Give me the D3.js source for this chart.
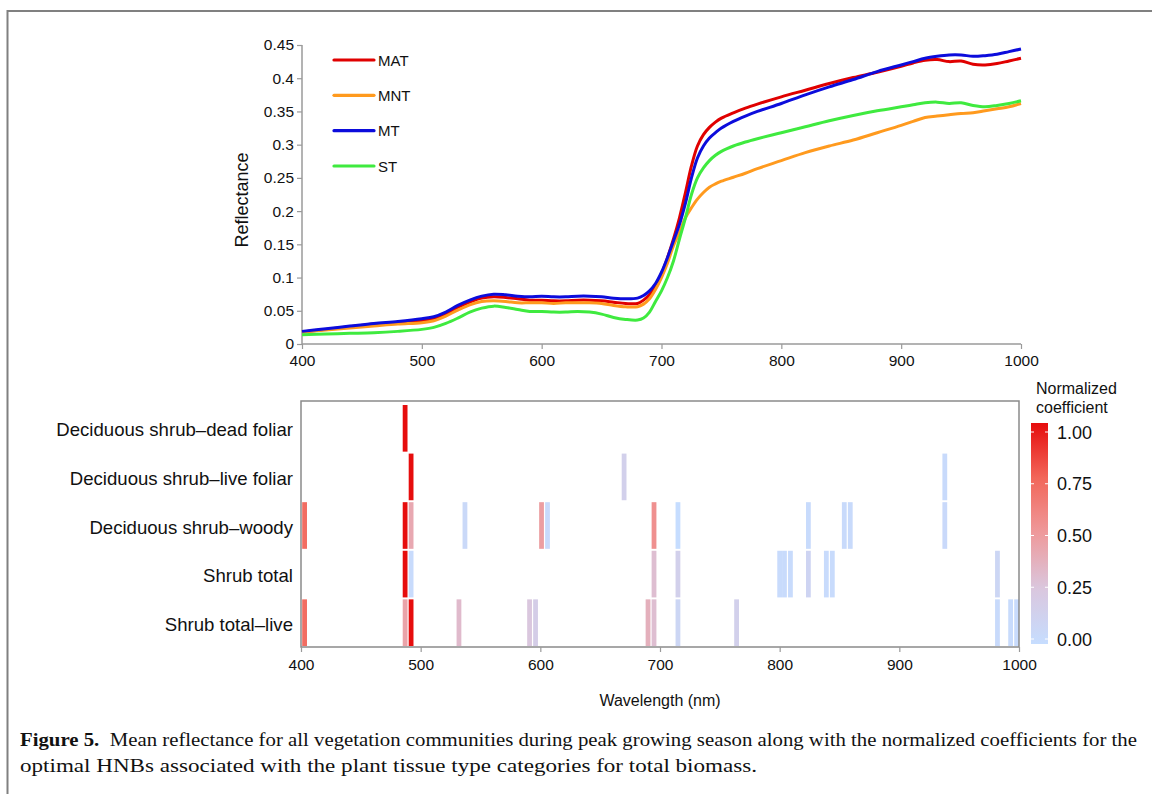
<!DOCTYPE html>
<html>
<head>
<meta charset="utf-8">
<script src="https://cdn.jsdelivr.net/npm/d3@7"></script>
<style>
  html, body { margin: 0; padding: 0; background: #fff; }
  svg { display: block; }
</style>
</head>
<body>
<svg id="fig" width="1152" height="794"></svg>
<script>
// ---- Mean reflectance spectra (wavelength in nm) ----
const wavelengths = [400, 420, 440, 460, 480, 500, 510, 520, 530, 540, 550, 560, 570, 580, 590, 600, 610, 620, 630, 640, 650, 660, 670, 680, 685, 690, 695, 700, 705, 710, 715, 720, 725, 730, 735, 740, 745, 750, 760, 770, 780, 800, 820, 840, 860, 880, 900, 910, 920, 930, 940, 950, 960, 970, 980, 990, 1000];
const reflMAT = [0.018, 0.022, 0.026, 0.030, 0.032, 0.035, 0.038, 0.045, 0.055, 0.063, 0.069, 0.071, 0.070, 0.068, 0.066, 0.066, 0.065, 0.065, 0.066, 0.066, 0.065, 0.063, 0.061, 0.061, 0.066, 0.074, 0.087, 0.106, 0.130, 0.158, 0.190, 0.228, 0.268, 0.298, 0.315, 0.326, 0.334, 0.340, 0.348, 0.355, 0.361, 0.372, 0.382, 0.392, 0.401, 0.409, 0.418, 0.423, 0.427, 0.428, 0.425, 0.426, 0.421, 0.420, 0.422, 0.426, 0.430];
const reflMNT = [0.018, 0.021, 0.024, 0.027, 0.030, 0.032, 0.035, 0.042, 0.051, 0.059, 0.064, 0.065, 0.064, 0.062, 0.062, 0.062, 0.061, 0.062, 0.062, 0.062, 0.061, 0.058, 0.056, 0.056, 0.060, 0.068, 0.082, 0.100, 0.122, 0.148, 0.168, 0.190, 0.205, 0.218, 0.228, 0.236, 0.241, 0.245, 0.251, 0.257, 0.264, 0.276, 0.288, 0.298, 0.307, 0.318, 0.329, 0.335, 0.341, 0.343, 0.345, 0.347, 0.348, 0.351, 0.354, 0.357, 0.362];
const reflMT  = [0.019, 0.023, 0.027, 0.031, 0.034, 0.038, 0.041, 0.048, 0.058, 0.066, 0.072, 0.075, 0.074, 0.072, 0.071, 0.072, 0.071, 0.071, 0.072, 0.072, 0.071, 0.069, 0.068, 0.069, 0.073, 0.080, 0.091, 0.108, 0.130, 0.155, 0.180, 0.212, 0.250, 0.280, 0.298, 0.310, 0.318, 0.325, 0.335, 0.343, 0.350, 0.362, 0.375, 0.387, 0.398, 0.410, 0.420, 0.425, 0.430, 0.433, 0.435, 0.435, 0.433, 0.434, 0.436, 0.440, 0.444];
const reflST  = [0.014, 0.015, 0.016, 0.017, 0.019, 0.022, 0.025, 0.031, 0.039, 0.048, 0.054, 0.057, 0.055, 0.052, 0.049, 0.049, 0.048, 0.048, 0.049, 0.048, 0.045, 0.040, 0.037, 0.036, 0.039, 0.048, 0.064, 0.080, 0.100, 0.125, 0.158, 0.190, 0.225, 0.250, 0.265, 0.276, 0.284, 0.290, 0.298, 0.304, 0.309, 0.318, 0.327, 0.336, 0.344, 0.351, 0.357, 0.360, 0.363, 0.364, 0.362, 0.363, 0.359, 0.357, 0.359, 0.362, 0.366];

const seriesNames  = ["MAT", "MNT", "MT", "ST"];
const seriesColors = ["#e00000", "#ff9a1e", "#0c0cdc", "#3fea3f"];
const reflTicks = [0, 0.05, 0.1, 0.15, 0.2, 0.25, 0.3, 0.35, 0.4, 0.45];
const wlTicks = [400, 500, 600, 700, 800, 900, 1000];

// ---- Normalized coefficients of the optimal narrow bands ----
const tissueTypes = ["Deciduous shrub–dead foliar", "Deciduous shrub–live foliar", "Deciduous shrub–woody", "Shrub total", "Shrub total–live"];
const deadFoliarBands = [487];
const deadFoliarCoef  = [1.0];
const liveFoliarBands = [492, 670, 938];
const liveFoliarCoef  = [1.0, 0.15, 0.03];
const woodyBands = [403, 487, 492, 537, 601, 606, 695, 715, 824, 854, 859, 938];
const woodyCoef  = [0.72, 1.0, 0.42, 0.05, 0.48, 0.03, 0.55, 0.0, 0.02, 0.03, 0.03, 0.04];
const totalBands = [487, 492, 695, 715, 800, 804, 809, 824, 839, 844, 982];
const totalCoef  = [1.0, 0.02, 0.3, 0.15, 0.02, 0.02, 0.02, 0.1, 0.02, 0.02, 0.08];
const totalLiveBands = [403, 487, 492, 532, 591, 596, 690, 695, 715, 764, 982, 993, 998];
const totalLiveCoef  = [0.72, 0.45, 1.0, 0.32, 0.25, 0.18, 0.38, 0.3, 0.08, 0.15, 0.03, 0.02, 0.02];
const coefTicks = [0, 0.25, 0.5, 0.75, 1.0];

const svg = d3.select("#fig");
const sans = '"Liberation Sans", Arial, Helvetica, sans-serif';
const serif = '"Liberation Serif", "Times New Roman", serif';
const axisGray = "#9a9a9a";

// Page frame
svg.append("rect").attr("x", 0).attr("y", 0).attr("width", 1152).attr("height", 794).attr("fill", "#fff");
svg.append("path").attr("d", "M7.5,794 V11 H1152")
  .attr("fill", "none").attr("stroke", "#808080").attr("stroke-width", 2);

// ================= Reflectance panel =================
const xTop = d3.scaleLinear().domain([400, 1000]).range([302, 1021]);
const yTop = d3.scaleLinear().domain([0, 0.45]).range([344, 45]);

const yAxisG = svg.append("g").attr("transform", "translate(302,0)")
  .call(d3.axisLeft(yTop).tickValues(reflTicks).tickFormat(d3.format("")).tickSize(5).tickPadding(3));
const xAxisG = svg.append("g").attr("transform", "translate(0,344)")
  .call(d3.axisBottom(xTop).tickValues(wlTicks).tickFormat(d3.format("d")).tickSize(5).tickPadding(6));
[yAxisG, xAxisG].forEach(g => {
  g.selectAll(".domain").attr("stroke", axisGray).attr("stroke-width", 1.5)
    .attr("d", g === yAxisG ? "M0,344V45" : "M302,0H1021");
  g.selectAll(".tick line").attr("stroke", axisGray).attr("stroke-width", 1.2);
  g.selectAll("text").attr("font-family", sans).attr("font-size", 15.5).attr("fill", "#111");
});

svg.append("text").attr("font-family", sans).attr("font-size", 18).attr("fill", "#111")
  .attr("text-anchor", "middle")
  .attr("transform", "translate(248,200) rotate(-90)")
  .text("Reflectance");

const spectra = [reflMAT, reflMNT, reflMT, reflST];
const line = d3.line()
  .x((d, i) => xTop(wavelengths[i]))
  .y(d => yTop(d))
  .curve(d3.curveCatmullRom.alpha(0.5));
spectra.forEach((s, k) => {
  svg.append("path").datum(s)
    .attr("fill", "none").attr("stroke", seriesColors[k]).attr("stroke-width", 3)
    .attr("stroke-linejoin", "round").attr("d", line);
});

// Legend
const legendY = d3.scalePoint().domain(seriesNames).range([60, 166]);
seriesNames.forEach((n, k) => {
  const yy = legendY(n);
  svg.append("line").attr("x1", 334).attr("x2", 374).attr("y1", yy).attr("y2", yy)
    .attr("stroke", seriesColors[k]).attr("stroke-width", 3.2).attr("stroke-linecap", "round");
  svg.append("text").attr("x", 378).attr("y", yy + 5.5)
    .attr("font-family", sans).attr("font-size", 15).attr("fill", "#111").text(n);
});

// ================= Coefficient panel =================
const xBot = d3.scaleLinear().domain([400, 1000]).range([301, 1019]);
const yBot = d3.scaleBand().domain(tissueTypes).range([405, 646]).paddingInner(0.04).paddingOuter(0);
const coefColor = d3.scaleLinear()
  .domain(coefTicks)
  .range(["#c6ddff", "#dac7de", "#ee9a9c", "#f2675a", "#e60d0d"])
  .interpolate(d3.interpolateRgb);

const rows = [
  [deadFoliarBands, deadFoliarCoef],
  [liveFoliarBands, liveFoliarCoef],
  [woodyBands, woodyCoef],
  [totalBands, totalCoef],
  [totalLiveBands, totalLiveCoef]
];
const bandHalf = 2.0; // nm on each side of the band centre

rows.forEach(([bands, coefs], r) => {
  const name = tissueTypes[r];
  svg.append("g").selectAll("rect")
    .data(bands.map((b, i) => ({ b, v: coefs[i] })))
    .join("rect")
    .attr("x", d => xBot(d.b - bandHalf))
    .attr("width", d => xBot(d.b + bandHalf) - xBot(d.b - bandHalf))
    .attr("y", yBot(name))
    .attr("height", yBot.bandwidth())
    .attr("fill", d => coefColor(d.v));
});

// Panel frame
svg.append("rect").attr("x", 301).attr("y", 401).attr("width", 718).attr("height", 246)
  .attr("fill", "none").attr("stroke", "#8a8a8a").attr("stroke-width", 1.5);

const xBotAxis = svg.append("g").attr("transform", "translate(0,647)")
  .call(d3.axisBottom(xBot).tickValues(wlTicks).tickFormat(d3.format("d")).tickSize(5).tickPadding(7));
xBotAxis.select(".domain").remove();
xBotAxis.selectAll(".tick line").attr("stroke", axisGray).attr("stroke-width", 1.2);
xBotAxis.selectAll("text").attr("font-family", sans).attr("font-size", 15.5).attr("fill", "#111");

svg.append("text").attr("x", 660).attr("y", 706).attr("text-anchor", "middle")
  .attr("font-family", sans).attr("font-size", 16).attr("fill", "#111").text("Wavelength (nm)");

// Row labels
tissueTypes.forEach(name => {
  svg.append("text").attr("x", 293).attr("y", yBot(name) + yBot.bandwidth() / 2 + 8)
    .attr("text-anchor", "end").attr("font-family", sans).attr("font-size", 18.6)
    .attr("fill", "#111").text(name);
});

// Colour bar
const cbY = d3.scaleLinear().domain([0, 1]).range([639, 432]);
const grad = svg.append("defs").append("linearGradient").attr("id", "coefGrad")
  .attr("x1", 0).attr("y1", 1).attr("x2", 0).attr("y2", 0);
d3.range(0, 1.0001, 0.05).forEach(t => {
  grad.append("stop").attr("offset", t).attr("stop-color", coefColor(t));
});
svg.append("rect").attr("x", 1031).attr("y", 423).attr("width", 17).attr("height", 221)
  .attr("fill", "url(#coefGrad)");
coefTicks.forEach(t => {
  const yy = cbY(t);
  svg.append("line").attr("x1", 1031).attr("x2", 1034).attr("y1", yy).attr("y2", yy)
    .attr("stroke", "#fff").attr("stroke-width", 1);
  svg.append("line").attr("x1", 1045).attr("x2", 1048).attr("y1", yy).attr("y2", yy)
    .attr("stroke", "#fff").attr("stroke-width", 1);
  svg.append("text").attr("x", 1057).attr("y", yy + 6.5)
    .attr("font-family", sans).attr("font-size", 18).attr("fill", "#111")
    .text(d3.format(".2f")(t));
});
svg.append("text").attr("x", 1036).attr("y", 394).attr("font-family", sans).attr("font-size", 16)
  .attr("fill", "#111").text("Normalized");
svg.append("text").attr("x", 1036).attr("y", 413).attr("font-family", sans).attr("font-size", 16)
  .attr("fill", "#111").text("coefficient");

// ================= Caption =================
const cap1 = svg.append("text").attr("x", 20).attr("y", 746)
  .attr("font-family", serif).attr("font-size", 18.5).attr("fill", "#111")
  .attr("textLength", 1117).attr("lengthAdjust", "spacingAndGlyphs");
cap1.append("tspan").attr("font-weight", "bold").text("Figure 5.");
cap1.append("tspan").text("\u00a0 Mean reflectance for all vegetation communities during peak growing season along with the normalized coefficients for the");

svg.append("text").attr("x", 20).attr("y", 772)
  .attr("font-family", serif).attr("font-size", 18.5).attr("fill", "#111")
  .attr("textLength", 737).attr("lengthAdjust", "spacingAndGlyphs")
  .text("optimal HNBs associated with the plant tissue type categories for total biomass.");
</script>
</body>
</html>
